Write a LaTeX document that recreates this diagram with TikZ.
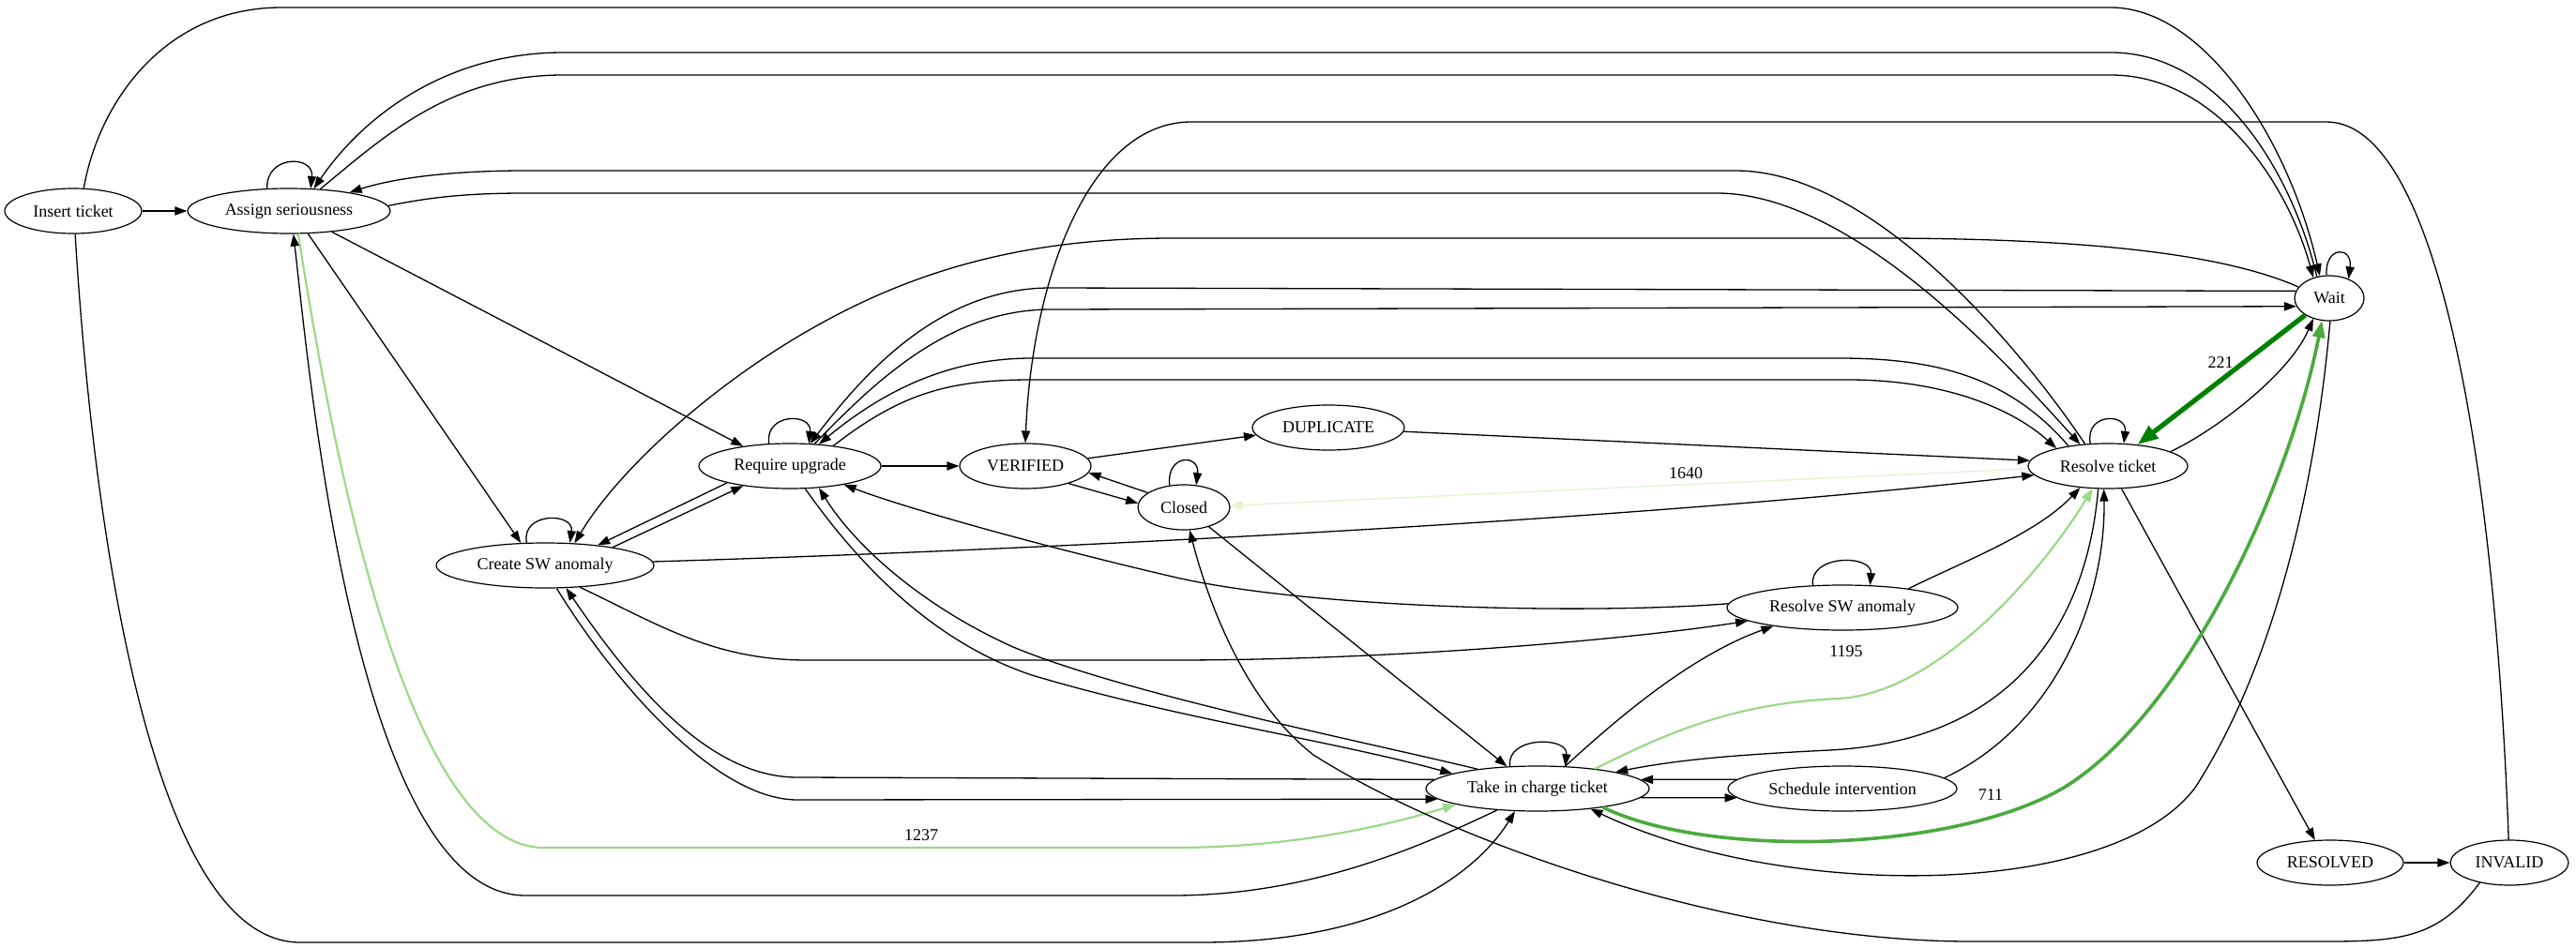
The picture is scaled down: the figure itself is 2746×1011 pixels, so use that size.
\documentclass[tikz,border=0pt]{standalone}
\usepackage{fontspec}
\setmainfont{Liberation Serif}
\usetikzlibrary{arrows.meta,shapes.geometric}

\definecolor{gdark}{RGB}{0,128,0}
\definecolor{gmid}{RGB}{74,170,62}
\definecolor{glight}{RGB}{155,217,137}
\definecolor{gpale}{RGB}{222,245,205}

\tikzset{
  st/.style={draw, ellipse, line width=0.6pt, inner sep=0pt, minimum height=24pt,
             font=\fontsize{9}{10}\selectfont},
  lbl/.style={inner sep=0pt, font=\fontsize{9}{10}\selectfont},
  e/.style={line width=0.65pt, -{Triangle[length=6.5pt,width=4.6pt]}},
  lg/.style={draw=glight, line width=1.1pt, -{Triangle[length=7pt,width=5.2pt]}},
  pg/.style={draw=gpale, line width=0.65pt, -{Triangle[length=6.5pt,width=4.6pt]}},
  mg/.style={draw=gmid, line width=1.8pt, -{Triangle[length=9pt,width=6.5pt]}},
  dg/.style={draw=gdark, line width=2.6pt, -{Triangle[length=11pt,width=8pt]}}
}

\begin{document}
\begin{tikzpicture}[x=0.5pt,y=-0.5pt]
\useasboundingbox (0,0) rectangle (2746,1011);

% states
\node[st, minimum width=73pt]  (ins) at (78,225)   {Insert ticket};
\node[st, minimum width=108pt] (asg) at (308,225)  {Assign seriousness};
\node[st, minimum width=116pt] (cre) at (581,603)  {Create SW anomaly};
\node[st, minimum width=97pt]  (req) at (842,497)  {Require upgrade};
\node[st, minimum width=70pt]  (ver) at (1093,497) {VERIFIED};
\node[st, minimum width=81pt]  (dup) at (1416,456) {DUPLICATE};
\node[st, minimum width=49pt]  (clo) at (1262,541) {Closed};
\node[st, minimum width=85pt]  (res) at (2247,497) {Resolve ticket};
\node[st, minimum width=37pt]  (wai) at (2483,318) {Wait};
\node[st, minimum width=123pt] (rsw) at (1964,648) {Resolve SW anomaly};
\node[st, minimum width=119pt] (tic) at (1639,841) {Take in charge ticket};
\node[st, minimum width=122pt] (sch) at (1964,841) {Schedule intervention};
\node[st, minimum width=78pt]  (rsd) at (2484,920) {RESOLVED};
\node[st, minimum width=63pt]  (inv) at (2675,920) {INVALID};

% transitions leaving Insert ticket
\draw[e] (ins) -- (asg);
\draw[e] (ins.65) .. controls (105,110) and (175,8) .. (300,8) -- (2250,8)
         .. controls (2350,8) and (2440,150) .. (wai.113);
\draw[e] (ins.-85) .. controls (95,500) and (150,1005) .. (320,1005) -- (1280,1005)
         .. controls (1480,1005) and (1575,930) .. (tic.-135);

% Assign seriousness
\draw[e] (asg.134) .. controls (283,165) and (335,165) .. (asg.46);
\draw[e] (asg.-50) -- (cre.137);
\draw[e] (asg.-26) -- (req.157);
\draw[lg] (asg.-68) .. controls (360,520) and (440,904) .. (580,904) -- (1250,904)
          .. controls (1380,904) and (1480,880) .. (tic.-169);
\draw[e] (tic.-152) .. controls (1520,900) and (1400,955) .. (1250,955) -- (560,955)
         .. controls (380,955) and (330,400) .. (asg.-79);
\draw[e] (asg.35) .. controls (410,145) and (480,80) .. (600,80) -- (2250,80)
         .. controls (2365,80) and (2440,200) .. (wai.128);
\draw[e] (wai.120) .. controls (2445,190) and (2370,56) .. (2250,56) -- (600,56)
         .. controls (480,56) and (390,120) .. (asg.42);
\draw[e] (asg.3) .. controls (460,210) and (500,206) .. (560,206) -- (1830,206)
         .. controls (1980,206) and (2150,400) .. (res.142);
\draw[e] (res.136) .. controls (2160,380) and (2000,182) .. (1850,182) -- (560,182)
         .. controls (480,182) and (420,190) .. (asg.17);

% Create SW anomaly
\draw[e] (cre.129) .. controls (555,546) and (612,546) .. (cre.42);
\draw[e] (wai.160) .. controls (2380,275) and (2250,254) .. (2000,254) -- (1250,254)
         .. controls (1100,254) and (980,285) .. (866,350)
         .. controls (760,410) and (660,500) .. (cre.37);
\draw[e] (req.-165) -- (cre.21);
\draw[e] (cre.15) -- (req.-157);
\draw[e] (cre.2) .. controls (1000,590) and (1700,560) .. (res.-173);
\draw[e] (cre.-32) .. controls (700,665) and (760,704) .. (860,704) -- (1250,704)
         .. controls (1500,704) and (1750,680) .. (rsw.-172);
\draw[e] (cre.-63) .. controls (650,720) and (760,853) .. (850,853) -- (tic.-174);
\draw[e] (tic.175) -- (850,829) .. controls (760,829) and (680,740) .. (cre.-47);

% Require upgrade
\draw[e] (req.133) .. controls (815,440) and (866,440) .. (req.50);
\draw[e] (req) -- (ver);
\draw[e] (wai.168) -- (1120,307) .. controls (1000,307) and (920,400) .. (req.48);
\draw[e] (req.42) .. controls (930,410) and (1010,330) .. (1120,330) -- (wai.-166);
\draw[e] (res.153) .. controls (2140,400) and (2060,382) .. (1960,382) -- (1100,382)
         .. controls (1020,382) and (950,410) .. (req.37);
\draw[e] (req.25) .. controls (960,420) and (1010,405) .. (1100,405) -- (1970,405)
         .. controls (2080,405) and (2150,440) .. (res.161);
\draw[e] (rsw.178) .. controls (1700,655) and (1400,650) .. (1250,615)
         .. controls (1100,580) and (960,540) .. (req.-19);
\draw[e] (req.-56) .. controls (900,580) and (980,680) .. (1100,720)
         .. controls (1250,765) and (1420,790) .. (tic.170);
\draw[e] (tic.162) .. controls (1450,790) and (1200,740) .. (1080,690)
         .. controls (980,645) and (910,580) .. (req.-37);

% VERIFIED, DUPLICATE, Closed
\draw[e] (ver.7) -- (dup.-174);
\draw[e] (dup.-3) -- (res.176);
\draw[e] (clo.158) -- (ver.-6);
\draw[e] (ver.-22) -- (clo.175);
\draw[e] (clo.123) .. controls (1243,484) and (1279,484) .. (clo.61);
\draw[e] (clo.-38) -- (tic.144);
\draw[pg] (res.-178) -- (clo.2);

% Resolve ticket and Wait
\draw[e] (res.128) .. controls (2222,440) and (2268,440) .. (res.55);
\draw[e] (wai.97) .. controls (2478,262) and (2508,262) .. (wai.45);
\draw[dg] (wai.-145) -- (res.36);
\draw[e] (res.13) .. controls (2360,460) and (2440,400) .. (wai.-128);
\draw[e] (res.-59) -- (rsd.124);
\draw[e] (rsd) -- (inv);
\draw[e] (res.-113) .. controls (2225,660) and (2150,790) .. (1950,800)
         .. controls (1850,805) and (1790,810) .. (tic.12);
\draw[e] (sch.6) .. controls (2190,775) and (2245,640) .. (res.-100);

% Resolve SW anomaly
\draw[e] (rsw.143) .. controls (1928,591) and (1996,591) .. (rsw.39);
\draw[e] (rsw.16) .. controls (2090,600) and (2170,570) .. (res.-142);
\draw[e] (tic.39) .. controls (1720,770) and (1800,700) .. (rsw.-165);

% Take in charge ticket
\draw[e] (tic.141) .. controls (1605,785) and (1672,785) .. (tic.39);
\draw[lg] (tic.19) .. controls (1780,780) and (1850,750) .. (1960,745)
          .. controls (2060,740) and (2170,620) .. (res.-124);
\draw[e] (tic.-5) -- (sch.-175);
\draw[e] (sch.175) -- (tic.5);
\draw[mg] (tic.-16) .. controls (1820,915) and (2080,910) .. (2200,840)
          .. controls (2330,760) and (2440,520) .. (wai.-108);
\draw[e] (wai.-88) .. controls (2470,500) and (2430,700) .. (2340,840)
         .. controls (2250,960) and (1900,960) .. (tic.-21);

% INVALID
\draw[e] (inv.92) .. controls (2660,500) and (2600,130) .. (2480,130) -- (1270,130)
         .. controls (1160,130) and (1100,300) .. (ver.90);
\draw[e] (inv.-146) .. controls (2600,1000) and (2560,1004) .. (2480,1004) -- (2100,1004)
         .. controls (1850,1004) and (1550,900) .. (1400,805)
         .. controls (1330,750) and (1290,650) .. (clo.-76);

% edge counts
\node[lbl] (l1237) at (982,891) {1237};
\node[lbl] (l1195) at (1968,695) {1195};
\node[lbl] (l1640) at (1797,505) {1640};
\node[lbl] (l221)  at (2367,387) {221};
\node[lbl] (l711)  at (2122,848) {711};
\end{tikzpicture}
\end{document}
